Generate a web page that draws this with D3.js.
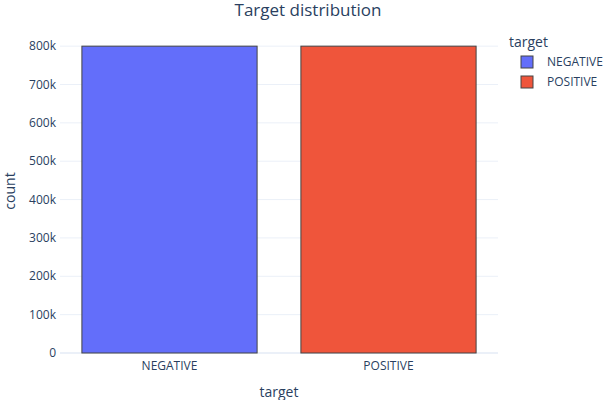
<!DOCTYPE html>
<html><head><meta charset="utf-8">
<script src="https://cdn.jsdelivr.net/npm/d3@7"></script>
<style>body{margin:0;background:#fff}text{font-family:"Open Sans",Verdana,Arial,sans-serif;fill:#2a3f5f}</style>
</head><body>
<svg id="c" width="616" height="400"></svg>
<script>
const categories = ["NEGATIVE", "POSITIVE"];
const counts = [800000, 800000];
const colors = ["#636efa", "#ef553b"];
const yTicks = [0,100000,200000,300000,400000,500000,600000,700000,800000];

const svg = d3.select("#c");
const m = {l:60, r:498, t:30, b:353};
const x = d3.scaleBand().domain(categories).range([m.l, m.r]).paddingInner(0.2).paddingOuter(0.1);
const y = d3.scaleLinear().domain([0, 842105]).range([m.b, m.t]);

const g = svg.append("g");
yTicks.forEach(t => {
  g.append("line").attr("x1", m.l).attr("x2", m.r).attr("y1", y(t)).attr("y2", y(t))
   .attr("stroke", "#ebf0f8").attr("stroke-width", t === 0 ? 2 : 1);
  g.append("text").attr("x", m.l - 4).attr("y", y(t)).attr("dy", "0.35em")
   .attr("text-anchor", "end").attr("font-size", 12)
   .text(t === 0 ? "0" : (t/1000) + "k");
});
categories.forEach((c, i) => {
  g.append("rect").attr("x", x(c)).attr("width", x.bandwidth())
   .attr("y", y(counts[i])).attr("height", y(0) - y(counts[i]))
   .attr("fill", colors[i]).attr("stroke", "#444").attr("stroke-width", 1);
  g.append("text").attr("x", x(c) + x.bandwidth()/2).attr("y", 370)
   .attr("text-anchor", "middle").attr("font-size", 12).text(c);
});
svg.append("text").attr("x", 308).attr("y", 16).attr("text-anchor", "middle").attr("font-size", 17).text("Target distribution");
svg.append("text").attr("x", 279).attr("y", 397).attr("text-anchor", "middle").attr("font-size", 14).text("target");
svg.append("text").attr("transform", "translate(15,191) rotate(-90)").attr("text-anchor", "middle").attr("font-size", 14).text("count");
svg.append("text").attr("x", 509).attr("y", 47).attr("font-size", 14).text("target");
categories.forEach((c, i) => {
  const yy = 62 + i*20;
  svg.append("rect").attr("x", 521).attr("y", yy - 6).attr("width", 12).attr("height", 12)
   .attr("fill", colors[i]).attr("stroke", "#444").attr("stroke-width", 1);
  svg.append("text").attr("x", 547).attr("y", yy).attr("dy", "0.35em").attr("font-size", 12).text(c);
});
</script>
</body></html>
